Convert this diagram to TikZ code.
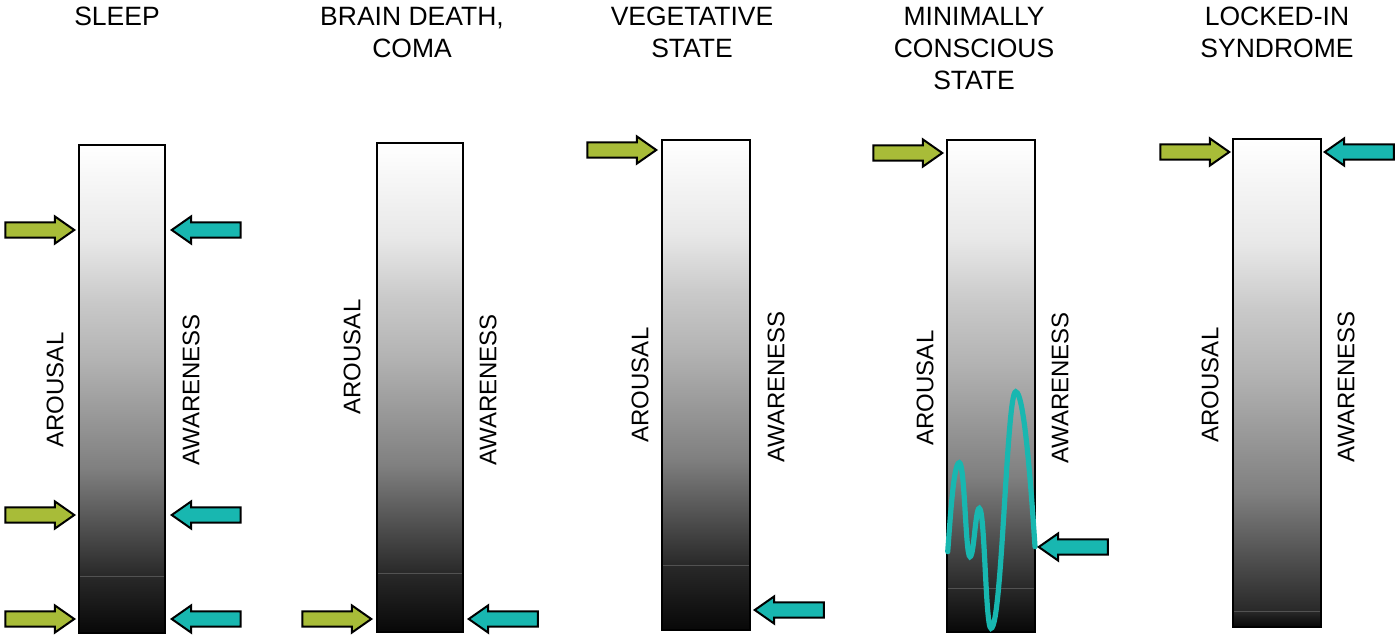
\documentclass[tikz,border=0pt]{standalone}
\usepackage{fontspec}
\setmainfont{Liberation Sans}
\usetikzlibrary{shapes.arrows}
\definecolor{arousalgreen}{RGB}{168,188,56}
\definecolor{awareteal}{RGB}{24,183,176}
\pgfdeclareverticalshading{scalegrad}{100bp}{color(0bp)=(black!84); color(25bp)=(black!84); color(37.5bp)=(black!50); color(50bp)=(black!30); color(57bp)=(black!21); color(64bp)=(black!9); color(75bp)=(white); color(100bp)=(white)}
\pgfdeclareverticalshading{bandgrad}{100bp}{color(0bp)=(black!97); color(25bp)=(black!97); color(75bp)=(black!84); color(100bp)=(black!84)}

\begin{document}
\begin{tikzpicture}[x=0.5pt,y=0.5pt,
	greenarr/.style={single arrow, draw=black, line width=1pt, fill=arousalgreen,
		minimum height=34.5pt, single arrow head extend=3pt, inner xsep=0pt, inner ysep=3.3pt,
		single arrow tip angle=70, anchor=tip},
	tealarr/.style={greenarr, fill=awareteal, shape border rotate=180},
	title/.style={font=\fontsize{13.25}{16}\selectfont, align=center, anchor=north, inner sep=0pt},
	axislabel/.style={font=\fontsize{12}{14}\selectfont, rotate=90, inner sep=0pt},
	sep/.style={black!68, line width=0.5pt},
	frame/.style={black, line width=1pt}]
		\useasboundingbox (0,0) rectangle (1400,-640);
		% titles
		\node [title] (t-sleep) at (117,-6.5) {SLEEP};
		\node [title] (t-coma) at (412,-6.5) {BRAIN DEATH,\\COMA};
		\node [title] (t-veg) at (692,-6.5) {VEGETATIVE\\STATE};
		\node [title] (t-mcs) at (974,-6.5) {MINIMALLY\\CONSCIOUS\\STATE};
		\node [title] (t-lis) at (1277,-6.5) {LOCKED-IN\\SYNDROME};
		% sleep
		\shade [shading=scalegrad] (79,-145) rectangle (165,-576);
		\shade [shading=bandgrad] (79,-576) rectangle (165,-633);
		\draw [sep] (79,-576) -- (165,-576);
		\draw [frame] (79,-145) rectangle (165,-633);
		\node [axislabel] (sl-ar) at (55,-390) {AROUSAL};
		\node [axislabel] (sl-aw) at (191,-390) {AWARENESS};
		\node [greenarr] (sl-g1) at (76,-230) {};
		\node [greenarr] (sl-g2) at (76,-515) {};
		\node [greenarr] (sl-g3) at (76,-619) {};
		\node [tealarr] (sl-t1) at (170,-230) {};
		\node [tealarr] (sl-t2) at (170,-515) {};
		\node [tealarr] (sl-t3) at (170,-619) {};
		% brain death, coma
		\shade [shading=scalegrad] (377,-143) rectangle (463,-573);
		\shade [shading=bandgrad] (377,-573) rectangle (463,-632);
		\draw [sep] (377,-573) -- (463,-573);
		\draw [frame] (377,-143) rectangle (463,-632);
		\node [axislabel] (co-ar) at (352,-357) {AROUSAL};
		\node [axislabel] (co-aw) at (488,-390) {AWARENESS};
		\node [greenarr] (co-g1) at (373,-619) {};
		\node [tealarr] (co-t1) at (467,-619) {};
		% vegetative state
		\shade [shading=scalegrad] (662,-140) rectangle (750,-565);
		\shade [shading=bandgrad] (662,-565) rectangle (750,-630);
		\draw [sep] (662,-565) -- (750,-565);
		\draw [frame] (662,-140) rectangle (750,-630);
		\node [axislabel] (ve-ar) at (640,-385) {AROUSAL};
		\node [axislabel] (ve-aw) at (776,-387) {AWARENESS};
		\node [greenarr] (ve-g1) at (658,-150) {};
		\node [tealarr] (ve-t1) at (753,-610) {};
		% minimally conscious state
		\shade [shading=scalegrad] (947,-140) rectangle (1035,-588);
		\shade [shading=bandgrad] (947,-588) rectangle (1035,-632);
		\draw [sep] (947,-588) -- (1035,-588);
		\draw [frame] (947,-140) rectangle (1035,-632);
		\node [axislabel] (mc-ar) at (925,-388) {AROUSAL};
		\node [axislabel] (mc-aw) at (1060,-388) {AWARENESS};
		\draw [awareteal, line width=2.6pt, line cap=round]
			(947.7,-551.7) .. controls +(3,40) and +(-5.5,0) .. (959.3,-462.7)
			.. controls +(5.5,0) and +(-4.5,0) .. (970,-556.7)
			.. controls +(4,0) and +(-4,0) .. (979.3,-508.3)
			.. controls +(5.5,0) and +(-5.5,0) .. (991,-628.3)
			.. controls +(11,0) and +(-9,0) .. (1015.7,-391.7)
			.. controls +(9,0) and +(-3,45) .. (1035,-546.7);
		\node [greenarr] (mc-g1) at (944,-153) {};
		\node [tealarr] (mc-t1) at (1037,-547) {};
		% locked-in syndrome
		\shade [shading=scalegrad] (1233,-139) rectangle (1321,-611);
		\shade [shading=bandgrad] (1233,-611) rectangle (1321,-627);
		\draw [sep] (1233,-611) -- (1321,-611);
		\draw [frame] (1233,-139) rectangle (1321,-627);
		\node [axislabel] (li-ar) at (1210,-385) {AROUSAL};
		\node [axislabel] (li-aw) at (1346,-387) {AWARENESS};
		\node [greenarr] (li-g1) at (1231,-152) {};
		\node [tealarr] (li-t1) at (1323,-152) {};
	\end{tikzpicture}
\end{document}
